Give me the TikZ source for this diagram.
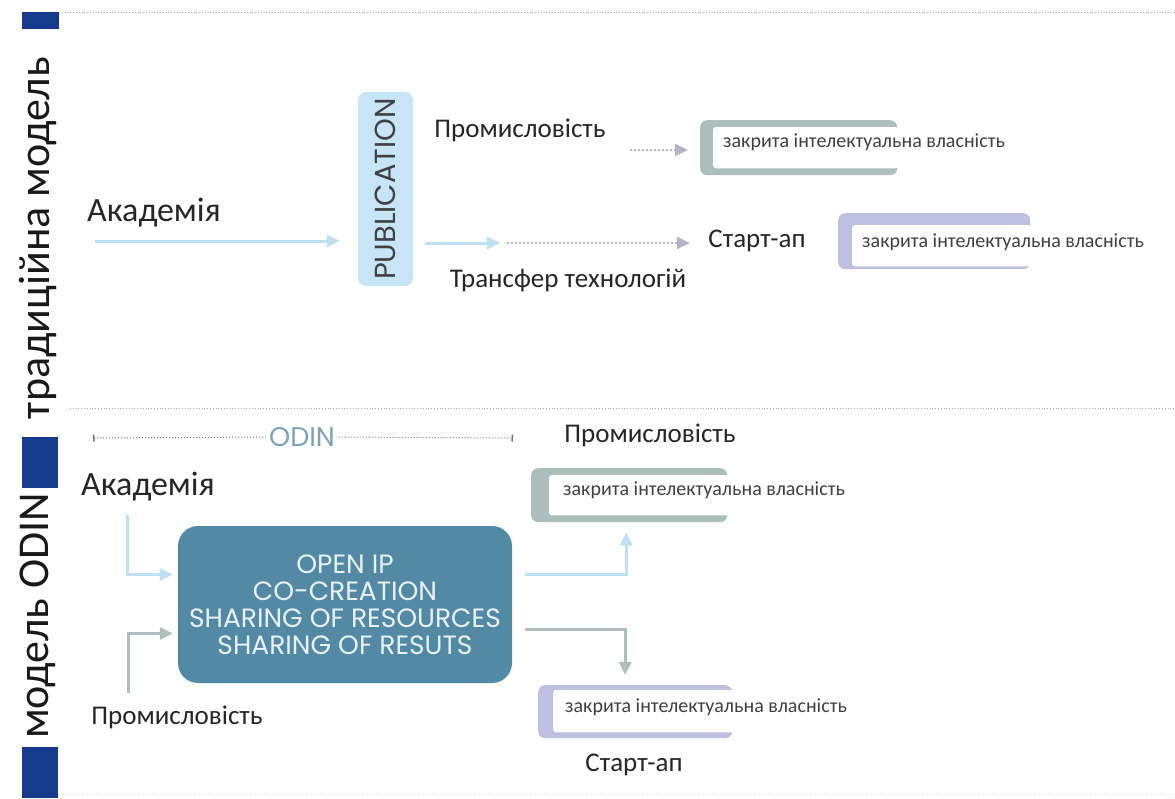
\documentclass[tikz,border=0pt]{standalone}
\usepackage{fontspec}
\setmainfont{Carlito}
\newfontfamily\geofont{Poppins}
\usepackage{tikz}
\definecolor{odinnavy}{RGB}{22,58,140}
\definecolor{lightblue}{RGB}{190,224,242}
\definecolor{pubblue}{RGB}{198,229,247}
\definecolor{closedgreen}{RGB}{172,191,186}
\definecolor{closedlila}{RGB}{191,191,226}
\definecolor{odinteal}{RGB}{82,138,166}
\definecolor{odintext}{RGB}{125,163,178}
\definecolor{arrowgray}{RGB}{178,190,190}
\definecolor{dotgray}{RGB}{180,180,196}
\usetikzlibrary{arrows.meta, positioning}

\begin{document}
\begin{tikzpicture}[x=1pt, y=-1pt, >={Triangle[length=13pt,width=12pt]}, % Raster in Pixeln, y nach unten
  lbl/.style={font=\fontsize{27}{29}\selectfont, text=black!85},
  biglbl/.style={font=\fontsize{34}{36}\selectfont, text=black!85},
  sidetext/.style={rotate=90, font=\fontsize{44}{46}\selectfont, text=black!90},
  bluearrow/.style={draw=lightblue, line width=3pt, ->},
  grayarrow/.style={draw=arrowgray, line width=3pt, ->},
  dotarrow/.style={draw=dotgray, line width=2pt, dotted, ->},
  sepline/.style={draw=black!35, dotted, line width=0.8pt},
  ipframe/.style={fill=#1, rounded corners=7pt, inner sep=0pt, anchor=north west},
  iptext/.style={font=\fontsize{20}{22}\selectfont, text=black!75, anchor=west, inner sep=0pt}]
  \useasboundingbox (0,0) rectangle (1175,798);

  % Seitenleiste
  \fill[odinnavy] (22,12) rectangle (59,29);
  \fill[odinnavy] (22,437) rectangle (58,488);
  \fill[odinnavy] (22,747) rectangle (58,798);
  \node[sidetext] (trad) at (38,238) {традиційна модель};
  \node[sidetext] (odinside) at (38,616) {модель ODIN};
  \draw[sepline] (62,12) -- (1175,12);
  \draw[sepline] (70,408) -- (1175,408);
  \draw[sepline, draw=black!12] (62,794) -- (1175,794);

  % traditionelles Modell
  \node[biglbl] (acad1) at (154,213) {Академія};
  \node[fill=pubblue, rounded corners=8pt, minimum width=55pt, minimum height=194pt] (pub) at (385.5,189) {};
  \node[rotate=90, font=\geofont\fontsize{29}{31}\selectfont, text=black!75] (pubtext) at (pub) {PUBLICATION};
  \node[lbl] (ind1) at (520,130) {Промисловість};
  \node[lbl] (start1) at (757,241) {Старт-ап};
  \node[lbl] (transfer) at (568,280) {Трансфер технологій};

  \node[ipframe=closedgreen, minimum width=197pt, minimum height=55pt] (ip1) at (700,120) {};
  \fill[white, rounded corners=3pt] ([xshift=13pt,yshift=-7pt]ip1.north west) rectangle ([xshift=1pt,yshift=7pt]ip1.south east);
  \node[iptext] (ip1t) at (723,142) {закрита інтелектуальна власність};
  \node[ipframe=closedlila, minimum width=192pt, minimum height=56pt] (ip2) at (838,213) {};
  \fill[white, rounded corners=3pt] ([xshift=14pt,yshift=-12pt]ip2.north west) rectangle ([xshift=1pt,yshift=3pt]ip2.south east);
  \node[iptext] (ip2t) at (862,242) {закрита інтелектуальна власність};

  \coordinate (a1) at (95,241);
  \coordinate (t1) at (500,243);
  \coordinate (d1) at (630,150);
  \draw[bluearrow, shorten >=18pt] (a1) -- (a1 -| pub.west);
  \draw[bluearrow, shorten <=12pt] (t1 -| pub.east) -- (t1);
  \draw[dotarrow, shorten <=7pt, shorten >=15pt] (t1) -- (t1 -| start1.west);
  \draw[dotarrow, shorten >=12pt] (d1) -- (d1 -| ip1.west);

  % Modell ODIN
  \node[font=\geofont\fontsize{27}{29}\selectfont, text=odintext] (odin) at (302,437) {ODIN};
  \coordinate (o1) at (93,438);
  \coordinate (o2) at (513,438);
  \draw[black!55, dotted, line width=1pt, {Bar[width=7pt,line width=1.5pt]}-] (o1) -- (odin.west);
  \draw[black!55, dotted, line width=1pt, -{Bar[width=7pt,line width=1.5pt]}] (odin.east) -- (o2);
  \node[lbl] (ind2) at (650,435) {Промисловість};
  \node[biglbl] (acad2) at (148,487) {Академія};
  \node[lbl] (ind3) at (177,717) {Промисловість};
  \node[lbl] (start2) at (634,765) {Старт-ап};

  \node[fill=odinteal, rounded corners=20pt, minimum width=334pt, minimum height=157pt,
        text=white!88!odinteal, font=\geofont\fontsize{26.5}{27}\selectfont, align=center] (open) at (345,604.5)
        {OPEN IP\\CO-CREATION\\SHARING OF RESOURCES\\SHARING OF RESUTS};

  \node[ipframe=closedgreen, minimum width=196pt, minimum height=54pt] (ip3) at (531,468) {};
  \fill[white, rounded corners=3pt] ([xshift=18pt,yshift=-7pt]ip3.north west) rectangle ([xshift=1pt,yshift=7pt]ip3.south east);
  \node[iptext] (ip3t) at (563,490) {закрита інтелектуальна власність};
  \node[ipframe=closedlila, minimum width=194pt, minimum height=53pt] (ip4) at (538,685) {};
  \fill[white, rounded corners=3pt] ([xshift=15pt,yshift=-5pt]ip4.north west) rectangle ([xshift=1pt,yshift=6pt]ip4.south east);
  \node[iptext] (ip4t) at (565,707) {закрита інтелектуальна власність};

  \coordinate (a2) at (127,515);
  \coordinate (p2) at (128,693);
  \draw[bluearrow, shorten >=5pt] (a2) |- ([yshift=30pt]open.west);
  \draw[grayarrow, shorten >=5pt] (p2) |- ([yshift=-29pt]open.west);
  \draw[bluearrow, shorten <=13pt, shorten >=10pt] ([yshift=30pt]open.east) -| ([xshift=-3pt]ip3.south);
  \draw[grayarrow, shorten <=13pt, shorten >=10pt] ([yshift=-25pt]open.east) -| ([xshift=-10pt]ip4.north);
\end{tikzpicture}
\end{document}
